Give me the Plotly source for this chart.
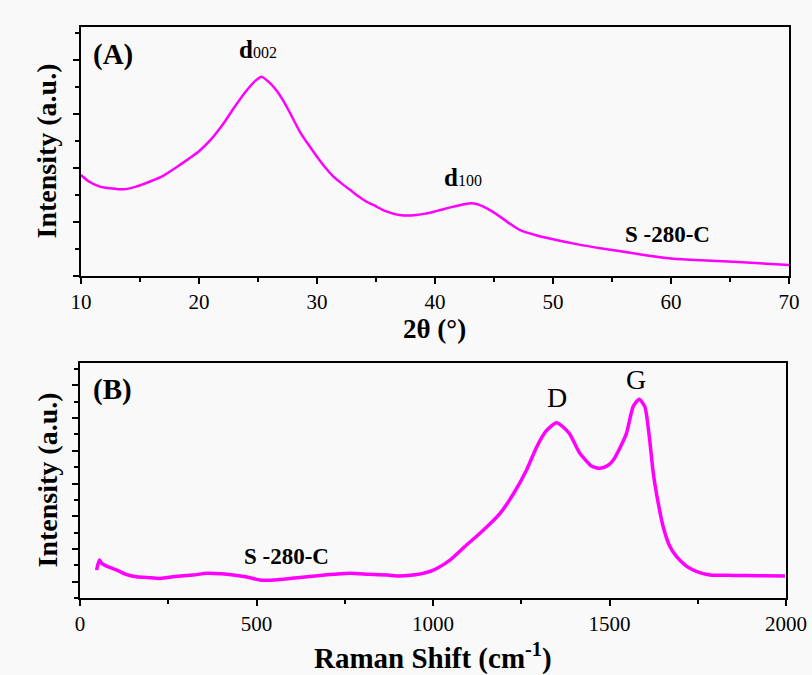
import plotly.graph_objects as go
from plotly.subplots import make_subplots

# ---- (A) XRD data ----
xrd_2theta = [10.0, 10.6, 11.6, 12.6, 13.6, 14.6, 15.8, 17.0, 18.0, 19.0, 20.0, 21.0, 22.0,
              23.0, 24.0, 24.7, 25.3, 26.0, 26.6, 27.2, 27.7, 28.6, 29.3, 30.0, 30.7, 31.4,
              32.1, 32.8, 33.5, 34.2, 35.0, 35.6, 36.3, 37.0, 37.7, 38.4, 39.2, 39.9, 40.6, 41.3,
              42.1, 43.0, 43.6, 44.1, 44.8, 45.5, 46.3, 47.2, 48.5, 50.0, 52.0, 54.0, 56.0, 57.7,
              60.0, 62.5, 65.3, 67.5, 70.0]
xrd_int = [3.74, 3.52, 3.31, 3.24, 3.21, 3.30, 3.49, 3.72, 4.00, 4.30, 4.62, 5.05, 5.60,
           6.25, 6.85, 7.20, 7.38, 7.15, 6.85, 6.45, 6.05, 5.30, 4.85, 4.42, 4.02, 3.68,
           3.42, 3.19, 2.95, 2.75, 2.58, 2.44, 2.33, 2.26, 2.24, 2.26, 2.31, 2.38, 2.46, 2.54,
           2.62, 2.69, 2.66, 2.57, 2.40, 2.20, 1.95, 1.70, 1.52, 1.36, 1.18, 1.03, 0.90, 0.78,
           0.65, 0.58, 0.53, 0.47, 0.41]

# ---- (B) Raman data ----
raman_shift = [47, 55, 62, 75, 90, 104, 130, 160, 195, 227, 270, 320, 359, 400, 434, 470, 510,
               560, 623, 680, 720, 765, 820, 870, 906, 950, 1001, 1050, 1095, 1140, 1190, 1230,
               1265, 1294, 1320, 1350, 1385, 1416, 1450, 1473, 1495, 1511, 1530, 1548, 1567,
               1584, 1600, 1612, 1624, 1638, 1652, 1670, 1690, 1715, 1737, 1760, 1785, 1850,
               1920, 1997]
raman_int = [1.71, 2.32, 2.10, 1.95, 1.82, 1.71, 1.45, 1.30, 1.24, 1.20, 1.32, 1.40, 1.51, 1.48,
             1.41, 1.30, 1.10, 1.12, 1.26, 1.38, 1.45, 1.52, 1.45, 1.40, 1.35, 1.42, 1.71, 2.35,
             3.24, 4.10, 5.18, 6.45, 7.83, 9.25, 10.20, 10.72, 10.10, 8.85, 8.05, 7.93, 8.10,
             8.44, 9.20, 10.07, 11.70, 12.15, 11.70, 10.00, 7.63, 5.80, 4.36, 3.20, 2.53, 2.00,
             1.71, 1.52, 1.41, 1.38, 1.36, 1.35]

xrd_ticks = [10, 20, 30, 40, 50, 60, 70]
raman_ticks = [0, 500, 1000, 1500, 2000]

MAG = "#ff00ff"
FONT = "Liberation Serif"
BG = "#f9f9f9"

fig = make_subplots(rows=2, cols=1)

fig.add_trace(go.Scatter(x=xrd_2theta, y=xrd_int, mode="lines",
                         line=dict(color=MAG, width=2.5, shape="spline", smoothing=0.6),
                         showlegend=False), row=1, col=1)
fig.add_trace(go.Scatter(x=raman_shift, y=raman_int, mode="lines",
                         line=dict(color=MAG, width=3.5, shape="spline", smoothing=0.6),
                         showlegend=False), row=2, col=1)

axis_common = dict(showline=True, linecolor="black", linewidth=2, mirror=True,
                   showgrid=False, zeroline=False, ticks="outside", tickcolor="black",
                   tickwidth=2, ticklen=6, automargin=False,
                   tickfont=dict(family=FONT, size=21, color="black"))
minor_common = dict(ticks="outside", ticklen=4, tickwidth=2, tickcolor="black")

fig.update_layout(
    width=812, height=675,
    paper_bgcolor=BG, plot_bgcolor=BG,
    margin=dict(l=80, r=23, t=27, b=77, autoexpand=False),
    showlegend=False,
    xaxis=dict(domain=[0.0014, 1.0], range=[10, 70], tickvals=xrd_ticks,
               minor=dict(dtick=5, **minor_common), **axis_common),
    yaxis=dict(domain=[0.5639, 1.0], range=[0, 9.22], dtick=2, tick0=0, showticklabels=False,
               minor=dict(dtick=1, **minor_common), **axis_common),
    xaxis2=dict(domain=[0.0, 0.9958], range=[0, 2000], tickvals=raman_ticks,
                minor=dict(dtick=250, **minor_common), **axis_common),
    yaxis2=dict(domain=[0.0, 0.4116], range=[0, 14.37], dtick=2, tick0=1, showticklabels=False,
                minor=dict(dtick=1, **minor_common), **axis_common),
)

def ann(text, x, y, xref, yref, size=22, **kw):
    fig.add_annotation(text=text, x=x, y=y, xref=xref, yref=yref, showarrow=False,
                       font=dict(family=FONT, size=size, color="black"), **kw)

# panel (A)
ann("<b>(A)</b>", 12.7, 8.19, "x", "y", size=29)
ann("<b>d</b><span style='font-size:16px'>002</span>", 25.0, 8.37, "x", "y", size=25)
ann("<b>d</b><span style='font-size:16px'>100</span>", 42.4, 3.63, "x", "y", size=25)
ann("<b>S -280-C</b>", 59.7, 1.52, "x", "y", size=23)
ann("<b>Intensity (a.u.)</b>", 0, 0.5, "paper", "y domain", size=28, textangle=-90,
    xanchor="center", yanchor="middle", xshift=-33)
ann("<b>2θ (°)</b>", 0.5, 0, "x domain", "y domain", size=27, xanchor="center",
    yanchor="middle", yshift=-53)

# panel (B)
ann("<b>(B)</b>", 93, 12.72, "x2", "y2", size=29)
ann("D", 1351, 12.23, "x2", "y2", size=28)
ann("G", 1575, 13.33, "x2", "y2", size=28)
ann("<b>S -280-C</b>", 586, 2.51, "x2", "y2", size=23)
ann("<b>Intensity (a.u.)</b>", 0, 0.5, "paper", "y2 domain", size=28, textangle=-90,
    xanchor="center", yanchor="middle", xshift=-33)
ann("<b>Raman Shift (cm<sup>-1</sup>)</b>", 0.5, 0, "x2 domain", "y2 domain", size=29,
    xanchor="center", yanchor="middle", yshift=-58)

fig.write_html("out.html", config={"displayModeBar": False},
               post_script="document.body.style.margin='0';"
                           "document.body.style.overflow='hidden';")
